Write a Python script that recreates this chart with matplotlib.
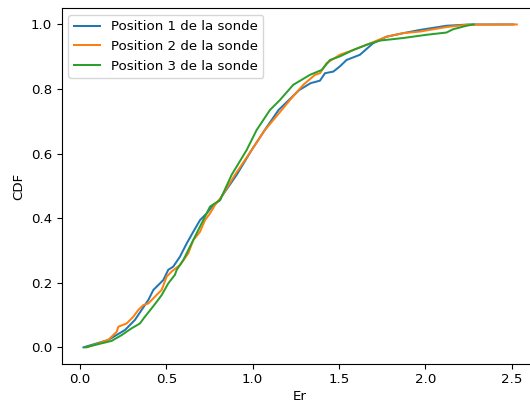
import numpy as np
import matplotlib
matplotlib.use("Agg")
import matplotlib.pyplot as plt

er_p1 = [0.02, 0.164, 0.261, 0.318, 0.357, 0.396, 0.425, 0.463, 0.483, 0.511,
         0.54, 0.579, 0.618, 0.656, 0.695, 0.734, 0.772, 0.811, 0.82, 0.907,
         0.994, 1.07, 1.15, 1.21, 1.27, 1.335, 1.39, 1.419, 1.467, 1.505,
         1.544, 1.621, 1.698, 1.775, 1.872, 1.969, 2.123, 2.258, 2.51]
cdf_p1 = [0.0, 0.023, 0.054, 0.085, 0.116, 0.147, 0.178, 0.198, 0.209, 0.24,
          0.25, 0.281, 0.322, 0.358, 0.394, 0.415, 0.441, 0.456, 0.467, 0.534,
          0.611, 0.673, 0.735, 0.766, 0.797, 0.818, 0.826, 0.849, 0.854, 0.87,
          0.89, 0.906, 0.942, 0.962, 0.973, 0.983, 0.996, 1.0, 1.0]

er_p2 = [0.04, 0.164, 0.212, 0.222, 0.27, 0.309, 0.338, 0.367, 0.396, 0.434,
         0.473, 0.502, 0.531, 0.579, 0.627, 0.656, 0.695, 0.724, 0.753, 0.782,
         0.82, 0.897, 0.994, 1.071, 1.168, 1.216, 1.293, 1.361, 1.39, 1.428,
         1.505, 1.583, 1.66, 1.775, 1.872, 1.969, 2.123, 2.239, 2.53]
cdf_p2 = [0.0, 0.023, 0.048, 0.064, 0.074, 0.095, 0.116, 0.131, 0.136, 0.157,
          0.178, 0.219, 0.235, 0.255, 0.291, 0.332, 0.358, 0.394, 0.415, 0.441,
          0.467, 0.534, 0.611, 0.673, 0.735, 0.766, 0.813, 0.844, 0.849, 0.88,
          0.906, 0.921, 0.937, 0.962, 0.973, 0.978, 0.992, 0.999, 1.0]

er_p3 = [0.03, 0.183, 0.241, 0.299, 0.347, 0.376, 0.415, 0.444, 0.473, 0.511,
         0.55, 0.56, 0.598, 0.637, 0.666, 0.695, 0.724, 0.753, 0.811, 0.878,
         0.965, 1.023, 1.10, 1.158, 1.235, 1.332, 1.40, 1.448, 1.505, 1.583,
         1.66, 1.737, 1.872, 2.007, 2.123, 2.16, 2.239, 2.28]
cdf_p3 = [0.0, 0.02, 0.038, 0.059, 0.074, 0.095, 0.121, 0.141, 0.162, 0.198,
          0.225, 0.24, 0.27, 0.312, 0.343, 0.374, 0.405, 0.436, 0.456, 0.534,
          0.611, 0.673, 0.735, 0.766, 0.813, 0.844, 0.859, 0.89, 0.901, 0.921,
          0.937, 0.95, 0.958, 0.968, 0.975, 0.985, 0.996, 1.0]

labels = ["Position 1 de la sonde", "Position 2 de la sonde", "Position 3 de la sonde"]

plt.rcParams['font.size'] = 9.6

fig = plt.figure(figsize=(5.3, 4.03), dpi=100)
ax = fig.add_axes([0.1166, 0.098, 0.8994, 0.8814])
ax.plot(er_p1, cdf_p1, linewidth=1.44, label=labels[0])
ax.plot(er_p2, cdf_p2, linewidth=1.44, label=labels[1])
ax.plot(er_p3, cdf_p3, linewidth=1.44, label=labels[2])
ax.set_xlabel('Er', labelpad=2.5)
ax.set_ylabel('CDF')
ax.legend(loc='upper left')
fig.savefig("out.png", dpi=100)
